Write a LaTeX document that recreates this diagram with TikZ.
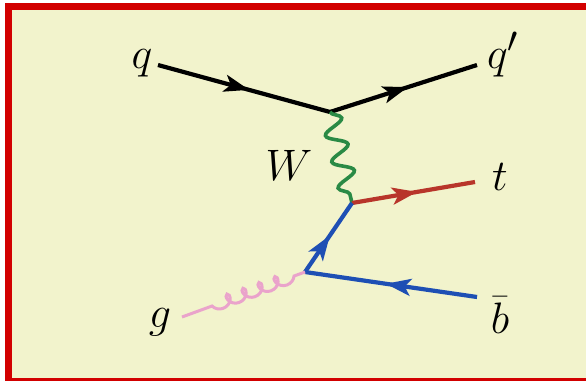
\documentclass[tikz,border=0pt]{standalone}
\usepackage{graphicx}
\usetikzlibrary{decorations.markings,decorations.pathmorphing,arrows.meta}
\definecolor{bgc}{HTML}{F2F3CC}
\definecolor{framec}{HTML}{D20000}
\definecolor{topc}{HTML}{B8352A}
\definecolor{bluec}{HTML}{1E4FB4}
\definecolor{greenc}{HTML}{2A8A45}
\definecolor{pinkc}{HTML}{EAA3CB}
\newcommand{\biglbl}[1]{\scalebox{1.77}{\Huge$#1$}}
\tikzset{
  lbl/.style={inner sep=0pt, anchor=base},
  fermion/.style={line width=4.2pt, postaction={decorate},
    decoration={markings, mark=at position 0.53 with {\arrow{Stealth[length=25pt,width=17pt,inset=6pt]}}}},
  photon/.style={line width=3.6pt, color=greenc, decorate,
    decoration={snake, amplitude=10pt, segment length=27pt}},
  gluon/.style={line width=3pt, color=pinkc, decorate,
    decoration={coil, amplitude=6pt, segment length=17pt, aspect=0.9, mirror, pre length=32pt, post length=10pt}}
}
\begin{document}
\begin{tikzpicture}[x=1pt,y=-1pt]
\useasboundingbox (0,0) rectangle (586,381);
\fill[white] (0,0) rectangle (586,381);
\fill[bgc] (12,10) rectangle (586,378);
\fill[framec] (5,3) rectangle (12,381);
\fill[framec] (5,3) rectangle (586,10);
\fill[framec] (5,378) rectangle (586,381);
% vertices and ends
\coordinate (v1) at (330,112);
\coordinate (v2) at (352,203);
\coordinate (v3) at (305,272);
\coordinate (qin) at (158,65);
\coordinate (qout) at (477,65);
\coordinate (tout) at (475,182);
\coordinate (bin) at (477,297);
\coordinate (gin) at (182,317);
% labels
\node[lbl] (q) at (142,68) {\biglbl{q}};
\node[lbl] (qp) at (503,68) {\biglbl{q'}};
\node[lbl] (W) at (289,180) {\biglbl{W}};
\node[lbl] (t) at (500,190) {\biglbl{t}};
\node[lbl] (bb) at (500,333) {\biglbl{\bar b}};
\node[lbl] (g) at (160,327) {\biglbl{g}};
% lines
\draw[fermion, black] (qin) -- (v1);
\draw[fermion, black] (v1) -- (qout);
\draw[photon] (v1) -- (v2);
\draw[fermion, topc] (v2) -- (tout);
\draw[fermion, bluec] (v3) -- (v2);
\draw[fermion, bluec] (bin) -- (v3);
\draw[gluon] (gin) -- (v3);
\end{tikzpicture}
\end{document}
